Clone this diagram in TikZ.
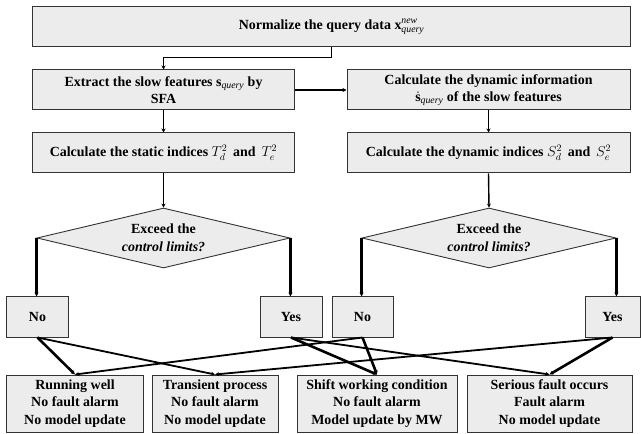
\documentclass[tikz,border=0pt]{standalone}
\usepackage{fontspec}
\setmainfont{LiberationSerif}[Extension=.ttf,UprightFont=*-Regular,BoldFont=*-Bold,
  ItalicFont=*-Italic,BoldItalicFont=*-BoldItalic]
\usepackage{amsmath}
\usepackage{tikz}
\usetikzlibrary{arrows.meta,shapes.geometric}

\begin{document}
\begin{tikzpicture}[x=1bp,y=-1bp,
  box/.style={draw=black!80,line width=1bp,fill=gray!15,inner sep=0pt,align=center,
    font=\fontsize{14}{17.5}\selectfont\bfseries},
  choice/.style={diamond,draw=black!80,line width=0.9bp,fill=gray!15,inner sep=0pt,aspect=4.2,
    align=center,font=\fontsize{14}{18}\selectfont\bfseries},
  flow/.style={-{Stealth[length=4bp,width=4bp]},line width=1.4bp},
  branch/.style={-{Stealth[length=4bp,width=4bp]},line width=2.6bp},
  link/.style={-{Stealth[length=4bp,width=4bp]},line width=1.8bp}]
  \useasboundingbox (0,0) rectangle (641,434);

  \node[box,minimum width=597bp,minimum height=40bp] (norm) at (331.5,27)
    {Normalize the query data $\mathbf{x}^{\mathit{new}}_{\mathit{query}}$};
  \node[box,minimum width=261bp,minimum height=40bp] (extract) at (163.5,90)
    {Extract the slow features $\mathbf{s}_{\mathit{query}}$ by\\SFA};
  \node[box,minimum width=283bp,minimum height=40bp] (dyninfo) at (488.5,90)
    {Calculate the dynamic information\\$\dot{\mathbf{s}}_{\mathit{query}}$ of the slow features};
  \node[box,minimum width=261bp,minimum height=40bp] (static) at (163.5,153)
    {Calculate the static indices $T_d^2$\, and\, $T_e^2$};
  \node[box,minimum width=283bp,minimum height=40bp] (dynidx) at (488.5,153)
    {Calculate the dynamic indices $S_d^2$\, and\, $S_e^2$};

  \node[choice,minimum width=253bp,minimum height=60bp] (limA) at (163.5,238)
    {Exceed the\\\textit{control limits?}};
  \node[choice,minimum width=254bp,minimum height=60bp] (limB) at (489,238)
    {Exceed the\\\textit{control limits?}};

  \node[box,minimum width=61bp,minimum height=40bp] (noA) at (37.5,317) {No};
  \node[box,minimum width=62bp,minimum height=40bp] (yesA) at (291,317) {Yes};
  \node[box,minimum width=61bp,minimum height=40bp] (noB) at (362.5,317) {No};
  \node[box,minimum width=55bp,minimum height=40bp] (yesB) at (612.5,317) {Yes};

  \node[box,minimum width=136bp,minimum height=57bp] (well) at (75,403.5)
    {Running well\\No fault alarm\\No model update};
  \node[box,minimum width=126bp,minimum height=57bp] (trans) at (215,403.5)
    {Transient process\\No fault alarm\\No model update};
  \node[box,minimum width=160bp,minimum height=57bp] (shift) at (377,403.5)
    {Shift working condition\\No fault alarm\\Model update by MW};
  \node[box,minimum width=165bp,minimum height=57bp] (fault) at (549.5,403.5)
    {Serious fault occurs\\Fault alarm\\No model update};

  \draw[flow] (norm.south) -- ++(0,10) -| (extract.north);
  \draw[flow] (extract.east) -- (dyninfo.west);
  \draw[flow] (extract.south) -- (static.north);
  \draw[flow] (dyninfo.south) -- (dynidx.north);
  \draw[flow] (static.south) -- (limA.north);
  \draw[flow] (dynidx.south) -- (limB.north);

  \draw[branch] (limA.west) -- (limA.west |- noA.north);
  \draw[branch] (limA.east) -- (limA.east |- yesA.north);
  \draw[branch] (limB.west) -- (limB.west |- noB.north);
  \draw[branch] (limB.east) -- (limB.east |- yesB.north);

  \draw[branch] (noA.south) -- (well.north);
  \draw[link] (noA.south) -- (trans.north);
  \draw[branch] (yesA.south) -- (shift.north);
  \draw[link] (yesA.south) -- (fault.north);
  \draw[branch] (noB.south) -- (shift.north);
  \draw[link] (noB.south) -- (well.north);
  \draw[branch] (yesB.south) -- (fault.north);
  \draw[link] (yesB.south) -- (trans.north);
\end{tikzpicture}
\end{document}
